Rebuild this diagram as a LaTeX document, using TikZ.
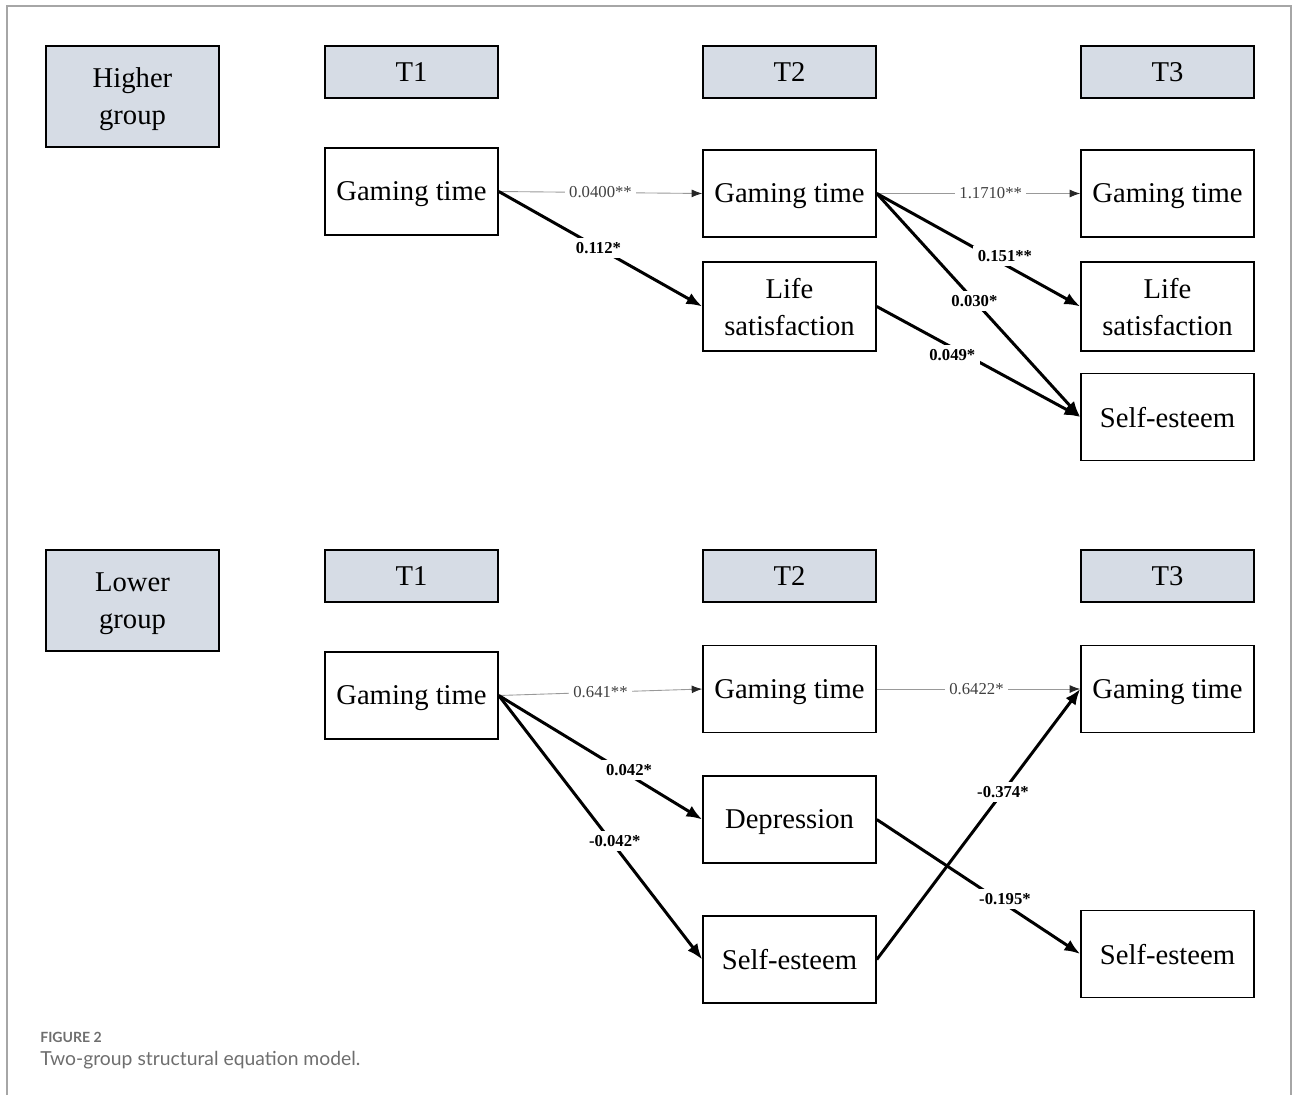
\documentclass[tikz,border=0pt]{standalone}
\usepackage{fontspec}
\setmainfont{Liberation Serif}
\newfontfamily\capfont{Lato}
\usetikzlibrary{arrows.meta}

\definecolor{boxgray}{HTML}{D6DCE5}
\definecolor{linegray}{HTML}{999999}
\definecolor{capgray}{HTML}{6E6E6E}
\definecolor{framegray}{HTML}{A6A6A6}

\tikzset{
	var/.style={draw, line width=0.9pt, minimum width=3.46cm, minimum height=1.74cm, align=center, inner sep=0pt, text depth=0pt, font=\fontsize{16.3}{21}\selectfont},
	head/.style={var, fill=boxgray, minimum height=1.04cm},
	grp/.style={var, fill=boxgray, minimum height=2.02cm},
	thinarr/.style={linegray, line width=0.5pt, -{Latex[length=6pt,width=4.5pt,black!85]}},
	thickarr/.style={black, line width=1.7pt, -{Latex[length=9pt,width=7pt]}},
	coef/.style={fill=white, inner sep=2.5pt, text=black!75, font=\fontsize{9.5}{11}\selectfont},
	bcoef/.style={coef, text=black, font=\bfseries\fontsize{9.5}{11}\selectfont}
}

\begin{document}
\begin{tikzpicture}[x=0.02cm, y=-0.02cm]
	\useasboundingbox (0,0) rectangle (1293,1095);
	\draw[framegray, line width=0.9pt] (7,1095) -- (7,6) -- (1291,6) -- (1291,1095);

	\node[grp] (hgrp) at (132.5,96.5) {Higher\\group};
	\node[head] (ht1) at (411.5,72) {T1};
	\node[head] (ht2) at (789.5,72) {T2};
	\node[head] (ht3) at (1167.5,72) {T3};

	\node[var] (hg1) at (411.5,191.5) {Gaming time};
	\node[var] (hg2) at (789.5,193.5) {Gaming time};
	\node[var, minimum height=1.78cm] (hl2) at (789.5,306.5) {Life\\satisfaction};
	\node[var] (hg3) at (1167.5,193.5) {Gaming time};
	\node[var, minimum height=1.78cm] (hl3) at (1167.5,306.5) {Life\\satisfaction};
	\node[var] (hs3) at (1167.5,417) {Self-esteem};

	\draw[thinarr] (hg1.east) -- node[coef, pos=0.5] {0.0400**} (hg2.west);
	\draw[thickarr] (hg1.east) -- node[bcoef, pos=0.49] {0.112*} (hl2.west);
	\draw[thinarr] (hg2.east) -- node[coef, pos=0.56] {1.1710**} (hg3.west);
	\draw[thickarr] (hg2.east) -- node[bcoef, pos=0.63, yshift=5pt] {0.151**} (hl3.west);
	\draw[thickarr] (hg2.east) -- node[bcoef, pos=0.48] {0.030*} (hs3.west);
	\draw[thickarr] (hl2.east) -- node[bcoef, pos=0.38, xshift=-1pt, yshift=-4pt] {0.049*} (hs3.west);

	\node[grp] (lgrp) at (132.5,600.5) {Lower\\group};
	\node[head] (lt1) at (411.5,576) {T1};
	\node[head] (lt2) at (789.5,576) {T2};
	\node[head] (lt3) at (1167.5,576) {T3};

	\node[var] (lg1) at (411.5,695.5) {Gaming time};
	\node[var] (lg2) at (789.5,689) {Gaming time};
	\node[var] (ld2) at (789.5,819.5) {Depression};
	\node[var] (ls2) at (789.5,959.5) {Self-esteem};
	\node[var] (lg3) at (1167.5,689) {Gaming time};
	\node[var] (ls3) at (1167.5,954) {Self-esteem};

	\draw[thinarr] (lg1.east) -- node[coef, pos=0.5] {0.641**} (lg2.west);
	\draw[thickarr] (lg1.east) -- node[bcoef, pos=0.64, yshift=3pt] {0.042*} (ld2.west);
	\draw[thickarr] (lg1.east) -- node[bcoef, pos=0.57, yshift=3pt] {-0.042*} (ls2.west);
	\draw[thinarr] (lg2.east) -- node[coef, pos=0.49] {0.6422*} (lg3.west);
	\draw[thickarr] (ls2.east) -- node[bcoef, pos=0.62] {-0.374*} (lg3.west);
	\draw[thickarr] (ld2.east) -- node[bcoef, pos=0.63, yshift=3pt] {-0.195*} (ls3.west);

	\node[anchor=west, inner sep=0pt, text=capgray, font=\capfont\bfseries\fontsize{8}{9}\selectfont] (fig) at (40,1037) {FIGURE 2};
	\node[anchor=west, inner sep=0pt, text=capgray, font=\capfont\fontsize{11}{13}\selectfont] (cap) at (40,1060) {Two-group structural equation model.};
\end{tikzpicture}
\end{document}
